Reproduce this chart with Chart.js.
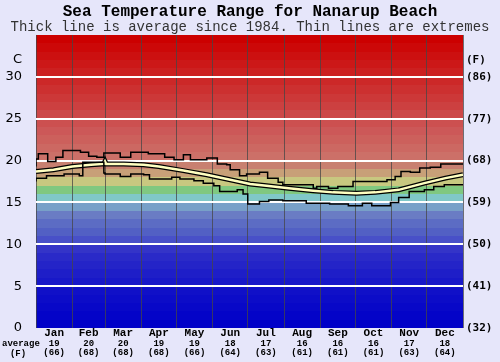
<!DOCTYPE html>
<html>
<head>
<meta charset="utf-8">
<script src="https://cdn.jsdelivr.net/npm/chart.js@4"></script>
<style>
  html, body { margin: 0; padding: 0; background: #e6e6fa; }
  #wrap { width: 500px; height: 362px; }
</style>
</head>
<body>
<div id="wrap"><canvas id="seaChart" width="500" height="362"></canvas></div>
<script>
// month axis
const monthNames = ["Jan", "Feb", "Mar", "Apr", "May", "Jun", "Jul", "Aug", "Sep", "Oct", "Nov", "Dec"];
const monthStartDays = [0, 31, 59, 90, 120, 151, 181, 212, 243, 273, 304, 334, 365];
const monthMidDays = [15.5, 45, 74.5, 105, 135.5, 166, 196.5, 227.5, 258, 288.5, 319, 349.5];
const avgMonthC = [19, 20, 20, 19, 19, 18, 17, 16, 16, 16, 17, 18];
const avgMonthF = [66, 68, 68, 68, 66, 64, 63, 61, 61, 61, 63, 64];

// temperature axes
const yTicksC = [0, 5, 10, 15, 20, 25, 30];
const yTicksF = ["(32)", "(41)", "(50)", "(59)", "(68)", "(77)", "(86)"];

// highest recorded (day of year -> deg C, holds until next day)
const maxDays = [0, 2, 10, 17, 23, 38, 45, 52, 58, 72, 81, 96, 110, 118, 126, 132, 146, 155, 163, 166, 174, 180, 191, 195, 198, 207, 211, 237, 240, 250, 258, 271, 283, 300, 307, 312, 320, 328, 337, 346, 354, 363, 365];
const maxTemps = [19.3, 20.2, 20.8, 19.9, 20.4, 21.2, 21.0, 20.5, 20.4, 20.9, 20.4, 21.0, 20.8, 20.4, 20.1, 20.7, 20.1, 20.3, 19.6, 19.5, 18.9, 18.2, 18.4, 18.6, 18.6, 17.9, 17.4, 17.1, 16.7, 16.9, 16.7, 16.9, 17.5, 17.5, 17.7, 18.1, 18.7, 18.6, 19.1, 19.2, 19.6, 19.6, 19.6];

// lowest recorded
const minDays = [0, 9, 24, 37, 40, 58, 59, 72, 81, 92, 97, 116, 123, 135, 143, 152, 157, 172, 177, 181, 191, 199, 211, 231, 251, 267, 279, 287, 303, 310, 319, 332, 340, 349, 356, 365];
const minTemps = [17.5, 17.9, 18.2, 18.4, 18.2, 19.8, 18.5, 18.4, 18.1, 18.4, 18.3, 17.8, 18.0, 17.8, 17.6, 17.3, 17.0, 16.3, 16.5, 16.0, 14.8, 15.1, 15.3, 15.2, 14.9, 14.8, 14.6, 14.9, 14.6, 15.0, 15.6, 16.3, 16.5, 16.9, 17.1, 17.1];

// average since 1984
const avgDays = [0, 15, 31, 47, 58, 59, 60, 75, 92, 105, 126, 146, 166, 183, 197, 216, 237, 254, 274, 290, 310, 332, 350, 365];
const avgTemps = [18.7, 18.9, 19.3, 19.5, 19.6, 19.9, 19.6, 19.6, 19.5, 19.3, 18.8, 18.3, 17.7, 17.2, 17.0, 16.7, 16.4, 16.2, 16.1, 16.2, 16.5, 17.3, 17.9, 18.3];

// one colour per degree band, 0 at the bottom
const bandColors = [
  "#0000c8", "#0404c8", "#0808c8", "#0c0cc8", "#1010c8",
  "#1818c8", "#1e1ec8", "#2424c8", "#2a2ac8", "#3434c8",
  "#4850c8", "#5260c4", "#5c6cc4", "#6a7cc4", "#78a0c8",
  "#80c8c8", "#80c880", "#c8c880", "#c8a078", "#c88070",
  "#cc7068", "#cc6862", "#cc605c", "#cc5858", "#cc5050",
  "#cc4848", "#cc4040", "#cc3838", "#cc3030", "#cc2828",
  "#cc2020", "#cc1818", "#cc1010", "#cc0808", "#cc0000"
];

const toPoints = (days, temps) => days.map((d, i) => ({ x: d, y: temps[i] }));

const bandPlugin = {
  id: "bands",
  beforeDraw(chart) {
    const { ctx, chartArea: a, scales: { y } } = chart;
    ctx.save();
    bandColors.forEach((c, i) => {
      const top = Math.round(y.getPixelForValue(i + 1));
      const bot = Math.round(y.getPixelForValue(i));
      ctx.fillStyle = c;
      ctx.fillRect(a.left, top, a.right - a.left, bot - top);
    });
    ctx.restore();
  }
};

const sideLabels = {
  id: "sideLabels",
  afterDraw(chart) {
    const { ctx } = chart;
    const x3 = chart.scales.x3;
    ctx.save();
    ctx.fillStyle = "#000";
    ctx.font = "bold 9px 'Liberation Mono'";
    ctx.textAlign = "left";
    ctx.textBaseline = "middle";
    ctx.fillText("average", 2, x3.top + 5);
    ctx.textAlign = "center";
    ctx.fillText("(F)", 18, x3.top + 14.5);
    ctx.restore();
  }
};

const fixedTicks = values => scale => {
  scale.ticks = values.map(v => ({ value: v }));
};
const fixedWidth = w => scale => { scale.width = w; };
const fixedHeight = h => scale => { scale.height = h; };

new Chart(document.getElementById("seaChart"), {
  type: "line",
  data: {
    datasets: [
      {
        data: toPoints(maxDays, maxTemps),
        borderColor: "#000",
        borderWidth: 1.5,
        stepped: "after",
        order: 0
      },
      {
        data: toPoints(minDays, minTemps),
        borderColor: "#000",
        borderWidth: 1.5,
        stepped: "after",
        order: 0
      },
      {
        data: toPoints(avgDays, avgTemps),
        borderColor: "#000",
        borderWidth: 5,
        order: 2
      },
      {
        data: toPoints(avgDays, avgTemps),
        borderColor: "#ffffc0",
        borderWidth: 2.5,
        order: 1
      }
    ]
  },
  options: {
    responsive: false,
    animation: false,
    events: [],
    layout: { padding: 0 },
    elements: { point: { radius: 0 }, line: { tension: 0 } },
    plugins: {
      legend: { display: false },
      tooltip: { enabled: false },
      title: {
        display: true,
        text: "Sea Temperature Range for Nanarup Beach",
        color: "#000",
        font: { family: "Liberation Mono", weight: "bold", size: 16, lineHeight: 1.0 },
        padding: { top: 4, bottom: 0 }
      },
      subtitle: {
        display: true,
        text: "Thick line is average since 1984. Thin lines are extremes",
        color: "#333",
        font: { family: "Liberation Mono", size: 14, lineHeight: 1.07 },
        padding: { top: 0, bottom: 0 }
      }
    },
    scales: {
      x: {
        type: "linear",
        position: "bottom",
        min: 0,
        max: 365,
        afterBuildTicks: fixedTicks(monthStartDays),
        afterFit: fixedHeight(0),
        ticks: { display: false },
        grid: { color: "rgba(70,70,70,0.75)", lineWidth: 1, drawTicks: false },
        border: { display: false }
      },
      x2: {
        type: "linear",
        position: "bottom",
        min: 0,
        max: 365,
        afterBuildTicks: fixedTicks(monthMidDays),
        afterFit: fixedHeight(11),
        ticks: {
          callback: (v, i) => monthNames[i],
          color: "#000",
          font: { family: "Liberation Mono", weight: "bold", size: 11, lineHeight: 1 },
          padding: 0,
          maxRotation: 0,
          autoSkip: false
        },
        grid: { display: false, drawTicks: false },
        border: { display: false }
      },
      x3: {
        type: "linear",
        position: "bottom",
        min: 0,
        max: 365,
        afterBuildTicks: fixedTicks(monthMidDays),
        afterFit: fixedHeight(23),
        ticks: {
          callback: (v, i) => [String(avgMonthC[i]), "(" + avgMonthF[i] + ")"],
          color: "#000",
          font: { family: "Liberation Mono", weight: "bold", size: 9, lineHeight: 1.05 },
          padding: 0,
          maxRotation: 0,
          autoSkip: false
        },
        grid: { display: false, drawTicks: false },
        border: { display: false }
      },
      y: {
        position: "left",
        min: 0,
        max: 35,
        afterBuildTicks: fixedTicks(yTicksC.concat([32])),
        afterFit: fixedWidth(36),
        ticks: {
          callback: v => (v === 32 ? "C" : v),
          color: "#000",
          font: { family: "DejaVu Sans", size: 13 },
          padding: 14
        },
        grid: {
          color: c => (c.tick && c.tick.value > 0 && c.tick.value <= 30 ? "#ffffff" : "rgba(0,0,0,0)"),
          lineWidth: 2,
          drawTicks: false
        },
        border: { display: false }
      },
      y2: {
        position: "right",
        min: 0,
        max: 35,
        afterBuildTicks: fixedTicks(yTicksC.concat([32])),
        afterFit: fixedWidth(37),
        ticks: {
          callback: v => (v === 32 ? "(F)" : yTicksF[yTicksC.indexOf(v)]),
          color: "#000",
          font: { family: "DejaVu Sans Mono", weight: "bold", size: 11 },
          padding: 3
        },
        grid: { display: false, drawTicks: false },
        border: { display: false }
      }
    }
  },
  plugins: [bandPlugin, sideLabels]
});
</script>
</body>
</html>
